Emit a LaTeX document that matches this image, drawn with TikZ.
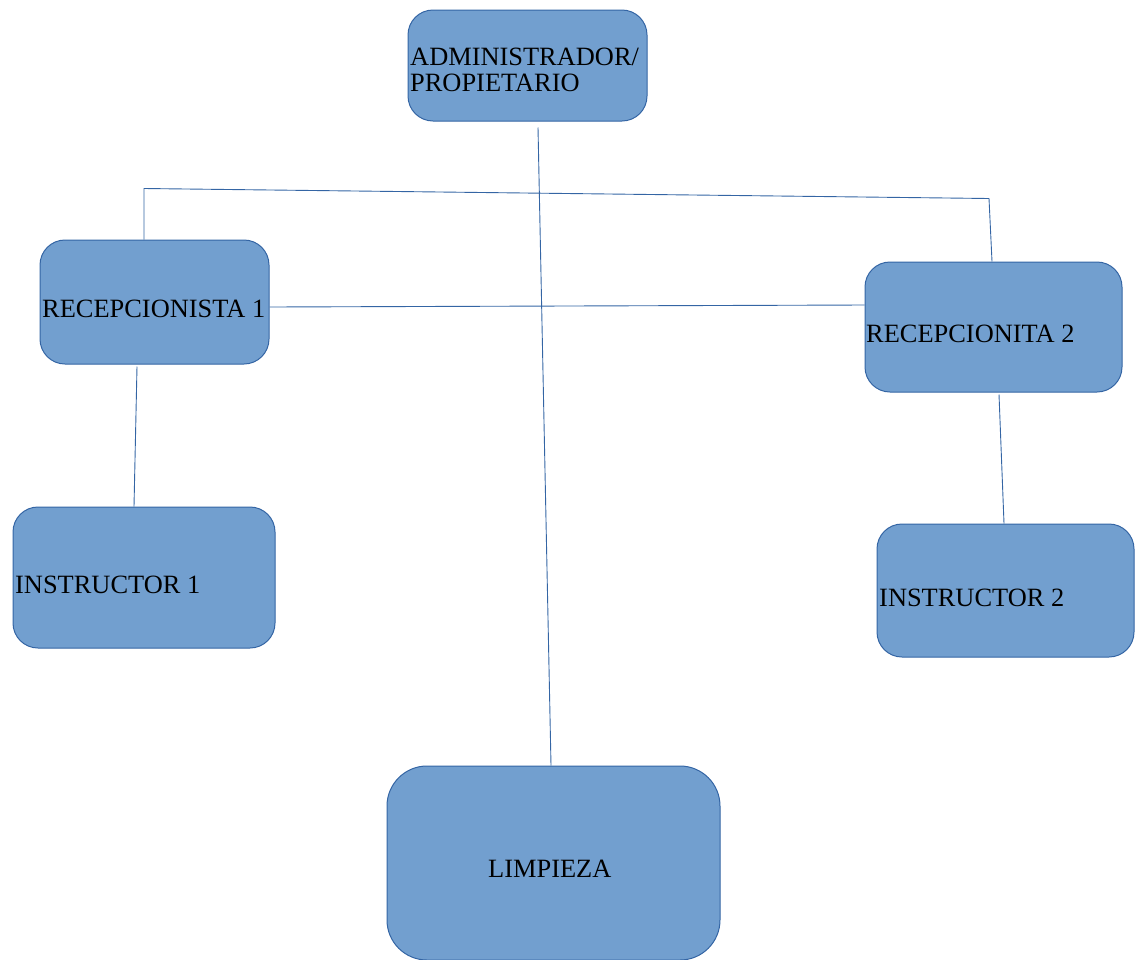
\documentclass[tikz,border=0pt]{standalone}
\usepackage{fontspec}
\setmainfont{Liberation Serif}
\definecolor{boxfill}{HTML}{729FCF}
\definecolor{boxline}{HTML}{3465A4}
\tikzset{
  cargo/.style={draw=boxline, fill=boxfill, line width=1pt, rounded corners=25pt, inner sep=0pt},
  etiqueta/.style={anchor=base west, inner sep=0pt, font=\fontsize{26.4}{26.4}\selectfont},
  enlace/.style={draw=boxline, line width=0.9pt}
}
\begin{document}
\begin{tikzpicture}[x=1pt, y=-1pt]
        \useasboundingbox (0,0) rectangle (1140,959);
        % administrador (top)
        \node[cargo, minimum width=239pt, minimum height=111pt] (adm) at (527.5,65.5) {};
        \node[etiqueta] (admA) at (410,65) {ADMINISTRADOR/};
        \node[etiqueta] (admB) at (410,91) {PROPIETARIO};
        % recepcionistas
        \node[cargo, minimum width=229pt, minimum height=124pt] (rec1) at (154.5,302) {};
        \node[etiqueta] (rec1t) at (42,317) {RECEPCIONISTA 1};
        \node[cargo, minimum width=257pt, minimum height=130pt] (rec2) at (993.5,327) {};
        \node[etiqueta] (rec2t) at (866,342) {RECEPCIONITA 2};
        % instructores
        \node[cargo, minimum width=262pt, minimum height=141pt] (ins1) at (144,577.5) {};
        \node[etiqueta] (ins1t) at (15,593) {INSTRUCTOR 1};
        \node[cargo, minimum width=257pt, minimum height=133pt] (ins2) at (1005.5,590.5) {};
        \node[etiqueta] (ins2t) at (879,606) {INSTRUCTOR 2};
        % limpieza (bottom)
        \node[cargo, rounded corners=40pt, minimum width=333pt, minimum height=194pt] (limp) at (553.5,863) {};
        \node[etiqueta] (limpt) at (488,877) {LIMPIEZA};
        % enlaces
        \draw[enlace] ([xshift=10.5pt,yshift=-6pt]adm.south) -- ([xshift=-2.5pt]limp.north);
        \draw[enlace] ([xshift=-10.5pt]rec1.north) -- ++(0,-51) -- ++(845,10) -- ([xshift=-1.5pt]rec2.north);
        \draw[enlace] ([yshift=-5pt]rec1.east) -- ([yshift=22pt]rec2.west);
        \draw[enlace] ([xshift=-17.5pt,yshift=-2pt]rec1.south) -- ([xshift=-10pt]ins1.north);
        \draw[enlace] ([xshift=5.5pt,yshift=-2pt]rec2.south) -- ([xshift=-1.5pt]ins2.north);
    \end{tikzpicture}
\end{document}
